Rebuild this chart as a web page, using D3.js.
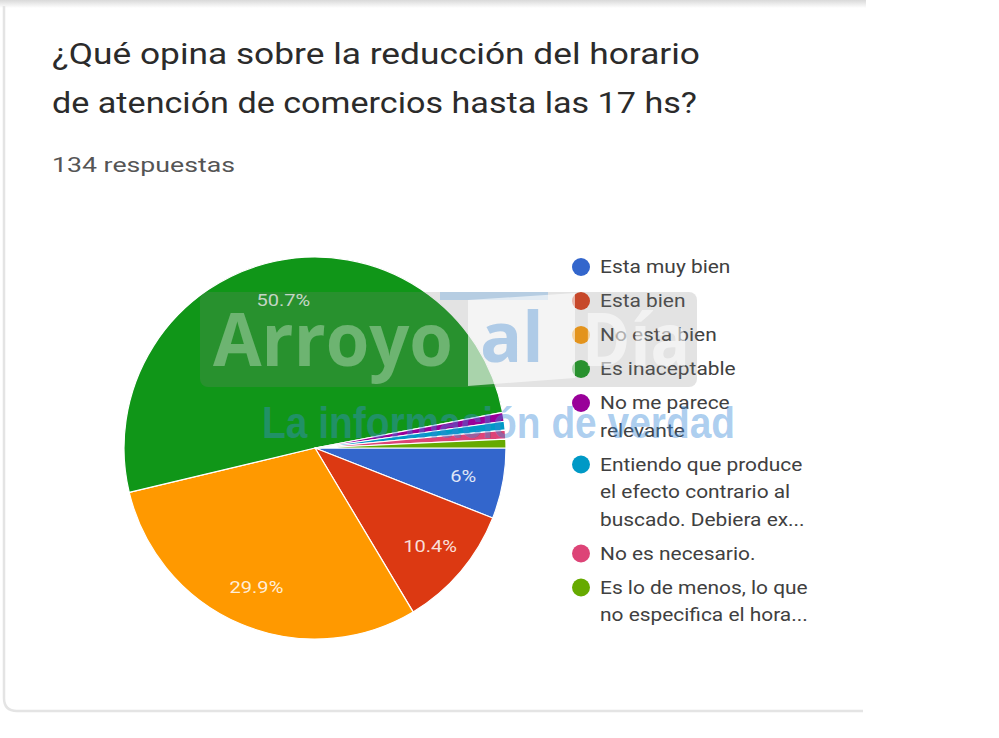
<!DOCTYPE html>
<html><head><meta charset="utf-8">
<script src="https://cdn.jsdelivr.net/npm/d3@7"></script>
<style>
html,body{margin:0;padding:0;background:#fff;}
svg{display:block;}
</style></head>
<body>
<svg id="chart" width="999" height="738"></svg>
<script>
// ---- data ----
const title = ["¿Qué opina sobre la reducción del horario", "de atención de comercios hasta las 17 hs?"];
const subtitle = "134 respuestas";
const categories = [
  ["Esta muy bien"],
  ["Esta bien"],
  ["No esta bien"],
  ["Es inaceptable"],
  ["No me parece", "relevante"],
  ["Entiendo que produce", "el efecto contrario al", "buscado. Debiera ex..."],
  ["No es necesario."],
  ["Es lo de menos, lo que", "no especifica el hora..."]
];
const counts = [8, 14, 40, 68, 1, 1, 1, 1];
const colors = ["#3366cc", "#dc3912", "#ff9900", "#109618", "#990099", "#0099c6", "#dd4477", "#66aa00"];

const svg = d3.select("#chart");

// card background
const defs = svg.append("defs");
const g1 = defs.append("linearGradient").attr("id","topShade").attr("x1",0).attr("y1",0).attr("x2",0).attr("y2",1);
g1.append("stop").attr("offset","0%").attr("stop-color","#d9d9d9");
g1.append("stop").attr("offset","100%").attr("stop-color","#ffffff");
svg.append("rect").attr("x",0).attr("y",0).attr("width",866).attr("height",8).attr("fill","url(#topShade)");
svg.append("path")
  .attr("d","M4,6 L4,698 Q4,711 17,711 L863,711")
  .attr("fill","none").attr("stroke","#e4e4e4").attr("stroke-width",2.5);

// title
const titleG = svg.append("g").attr("font-family","Roboto, 'Noto Sans', sans-serif");
const titleW = [648, 645];
titleG.selectAll("text.t").data(title).join("text")
  .attr("class","t")
  .attr("x",52).attr("y",(d,i)=>64 + i*49)
  .attr("font-size",29).attr("fill","#2b2b2b")
  .attr("textLength",(d,i)=>titleW[i]).attr("lengthAdjust","spacingAndGlyphs")
  .text(d=>d);
titleG.append("text").attr("x",52).attr("y",172)
  .attr("font-size",20).attr("fill","#555")
  .attr("textLength",183).attr("lengthAdjust","spacingAndGlyphs")
  .text(subtitle);

// pie
const cx = 315, cy = 448, R = 191;
const total = d3.sum(counts);
const pie = d3.pie().sort(null).value(d=>d).startAngle(Math.PI/2).endAngle(Math.PI/2 + 2*Math.PI);
const arcs = pie(counts);
const arc = d3.arc().innerRadius(0).outerRadius(R);
const labelArc = d3.arc().innerRadius(R*0.79).outerRadius(R*0.79);
const pg = svg.append("g").attr("transform",`translate(${cx},${cy})`);
pg.selectAll("path").data(arcs).join("path")
  .attr("d",arc).attr("fill",(d,i)=>colors[i])
  .attr("stroke","#fff").attr("stroke-width",1.2).attr("stroke-linejoin","round");
const fmt = d3.format(".1~f");
pg.selectAll("g.lbl").data(arcs.filter(d=>d.value/total > 0.03)).join("g")
  .attr("class","lbl")
  .attr("transform",d=>`translate(${labelArc.centroid(d)}) scale(1.18,1)`)
  .append("text")
  .attr("text-anchor","middle").attr("dy","0.35em")
  .attr("font-family","Roboto, sans-serif").attr("font-size",17)
  .attr("fill","#fff").attr("fill-opacity",0.85)
  .text(d=>fmt(d.value/total*100)+"%");

// legend
const lg = svg.append("g").attr("font-family","Roboto, 'Noto Sans', sans-serif");
const lineH = 27.5, itemAdv = 34;
let y = 267;
categories.forEach((lines,i)=>{
  const item = lg.append("g");
  item.append("circle").attr("cx",581).attr("cy",y).attr("r",9).attr("fill",colors[i]);
  const tg = item.append("g").attr("transform",`translate(600,0) scale(1.1,1)`);
  tg.selectAll("text").data(lines).join("text")
    .attr("x",0).attr("y",(d,j)=>y + 6.5 + j*lineH)
    .attr("font-size",19).attr("fill","#404040")
    .text(d=>d);
  y += itemAdv + lineH*(lines.length-1);
});

// watermark overlay
const wm = svg.append("g").attr("pointer-events","none");
wm.append("rect").attr("x",200).attr("y",292).attr("width",497).attr("height",95).attr("rx",8)
  .attr("fill","#808080").attr("fill-opacity",0.22);
wm.append("text").attr("x",213).attr("y",366).attr("font-family","'Open Sans', 'DejaVu Sans', sans-serif")
  .attr("font-weight","bold").attr("font-size",74).attr("fill","#ffffff").attr("fill-opacity",0.32)
  .attr("textLength",240).attr("lengthAdjust","spacingAndGlyphs").text("Arroyo");
wm.append("path").attr("d","M440,292 L548,292 L548,300 L440,300 Z").attr("fill","#7fb2e0").attr("fill-opacity",0.45);
wm.append("path").attr("d","M468,300 L575,293 L575,378 L468,386 Z").attr("fill","#ffffff").attr("fill-opacity",0.6);
wm.append("text").attr("x",480).attr("y",362).attr("font-family","'Open Sans', sans-serif")
  .attr("font-weight","bold").attr("font-size",70).attr("fill","#5a9ad6").attr("fill-opacity",0.45)
  .text("al");
wm.append("text").attr("x",582).attr("y",366).attr("font-family","'Open Sans', sans-serif")
  .attr("font-weight","bold").attr("font-size",74).attr("fill","#ffffff").attr("fill-opacity",0.55)
  .attr("textLength",108).attr("lengthAdjust","spacingAndGlyphs").text("Día");
wm.append("text").attr("x",262).attr("y",438).attr("font-family","'Liberation Sans Narrow', 'Liberation Sans', sans-serif")
  .attr("font-weight","bold").attr("font-size",44).attr("fill","#3a8ad8").attr("fill-opacity",0.42)
  .attr("textLength",473).attr("lengthAdjust","spacingAndGlyphs").text("La información de verdad");
</script>
</body></html>
